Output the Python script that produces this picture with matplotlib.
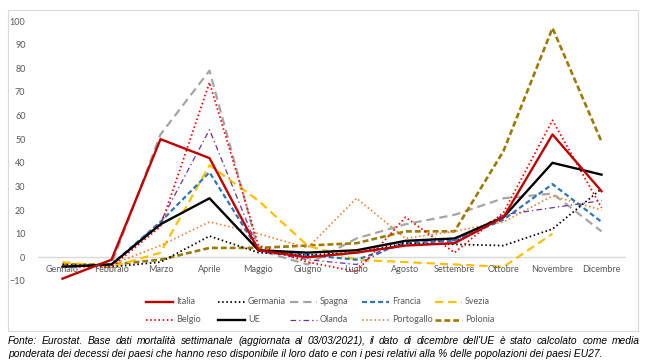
import numpy as np
import matplotlib
matplotlib.use("Agg")
import matplotlib.pyplot as plt
from matplotlib.lines import Line2D
from matplotlib.patches import Rectangle

plt.rcParams['lines.scale_dashes'] = False

mesi = ["Gennaio", "Febbraio", "Marzo", "Aprile", "Maggio", "Giugno",
        "Luglio", "Agosto", "Settembre", "Ottobre", "Novembre", "Dicembre"]

# variazioni % mensili dei decessi
italia = [-9, -1, 50, 42, 3, 0, 2, 5, 6, 17, 52, 28]
germania = [-3, -4, -2, 9, 2, 1, 2, 6, 5.5, 5, 12, 29]
spagna = [-4, -3, 52, 79, 3, -3, 8, 14, 18, 25, 27, 11]
francia = [-4, -3, 15, 36, 3, 1, -1, 6, 7, 16, 31, 15]
svezia = [-2, -4, 2, 39, 24, 5, -1, -2, -3, -4, 10, np.nan]
belgio = [-4, -4, 13, 74, 5, -2, -6, 17, 2, 19, 58, 21]
ue = [-4, -3, 14, 25, 3, 2, 3, 7, 8, 17, 40, 35]
olanda = [-4, -3, 15, 54, 3, -1, -3, 7, 7, 18, 21, 24]
portogallo = [-3, -3, 5, 15, 10, 4, 25, 8, 11, 15, 26, 20]
polonia = [-3, -3, -1, 4, 4, 5, 6, 11, 11, 45, 97, 49]

nomi = ["Italia", "Germania", "Spagna", "Francia", "Svezia",
        "Belgio", "UE", "Olanda", "Portogallo", "Polonia"]
serie = [italia, germania, spagna, francia, svezia,
         belgio, ue, olanda, portogallo, polonia]

# stile di ogni serie: colore, spessore (pt), tratteggio
stili = {
    "Italia": dict(color="#C00000", lw=1.7, ls="-"),
    "Germania": dict(color="#000000", lw=1.3, ls=(0, (1.1, 1.9))),
    "Spagna": dict(color="#A5A5A5", lw=1.6, ls=(0, (6, 3.5))),
    "Francia": dict(color="#2E75B6", lw=1.6, ls=(0, (3.6, 2.2))),
    "Svezia": dict(color="#FFC000", lw=1.6, ls=(0, (6, 3.5))),
    "Belgio": dict(color="#FF0000", lw=1.3, ls=(0, (1.1, 1.9))),
    "UE": dict(color="#000000", lw=1.7, ls="-"),
    "Olanda": dict(color="#7030A0", lw=0.9, ls=(0, (4, 2.2, 1, 2.2))),
    "Portogallo": dict(color="#ED7D31", lw=1.2, ls=(0, (1.1, 1.9))),
    "Polonia": dict(color="#9C7A00", lw=1.9, ls=(0, (4.2, 2.2))),
}

W, H = 648, 363
fig = plt.figure(figsize=(W / 100, H / 100), dpi=100)

def px(x, y):
    return x / W, 1 - y / H

# cornice del grafico
fig.add_artist(Rectangle(px(8, 331), (638 - 8) / W, (331 - 10) / H,
                         transform=fig.transFigure, fill=False,
                         edgecolor="#D9D9D9", lw=0.8))

l, b = px(38, 281)
r, t = px(626, 21)
ax = fig.add_axes([l, b, r - l, t - b])
x = np.arange(len(mesi))

ordine = ["Spagna", "Polonia", "Svezia", "Portogallo", "Olanda", "Francia",
          "Germania", "Belgio", "UE", "Italia"]
ax.axhline(0, color="#D9D9D9", lw=1.0, zorder=1)
for nome in ordine:
    s = stili[nome]
    ax.plot(x, serie[nomi.index(nome)], color=s["color"], lw=s["lw"],
            linestyle=s["ls"], zorder=2 + ordine.index(nome))

ax.set_xlim(-0.5, len(mesi) - 0.5)
ax.set_ylim(-10, 100)
ax.set_yticks(np.arange(-10, 101, 10))
ax.set_xticks([])
ax.tick_params(axis="y", length=0, pad=9, labelsize=6.5, labelcolor="#595959")
for lab in ax.get_yticklabels():
    lab.set_family("Lato")
for sp in ax.spines.values():
    sp.set_visible(False)

for i, m in enumerate(mesi):
    ax.text(i, -5.2, m, ha="center", va="center", fontsize=6.5,
            color="#595959", family="Lato", zorder=20)

# legenda su due righe, colonne a passo fisso
col_x = [146, 218, 290, 362, 435]
row_y = [302, 320]
for k, nome in enumerate(nomi):
    s = stili[nome]
    x0 = col_x[k % 5]
    y0 = row_y[k // 5]
    xa, ya = px(x0, y0)
    xb, _ = px(x0 + 27, y0)
    fig.add_artist(Line2D([xa, xb], [ya, ya], transform=fig.transFigure,
                          color=s["color"], lw=s["lw"], linestyle=s["ls"]))
    fx, fy = px(x0 + 30, y0)
    fig.text(fx, fy, nome, ha="left", va="center", fontsize=6.5,
             color="#595959", family="Lato")

nota1 = ("Fonte: Eurostat. Base dati mortalità settimanale (aggiornata al 03/03/2021), "
         "il dato di dicembre dell'UE è stato calcolato come media")
nota2 = ("ponderata dei decessi dei paesi che hanno reso disponibile il loro dato "
         "e con i pesi relativi alla % delle popolazioni dei paesi EU27.")
font_nota = dict(fontsize=7.4, style="italic", family="Liberation Sans",
                 color="#000000", va="center", ha="left")

# prima riga giustificata tra x=8 e x=640
renderer = fig.canvas.get_renderer()
parole = nota1.split(" ")
pezzi = []
for p in parole:
    tx = fig.text(0, 0, p, **font_nota)
    pezzi.append((tx, tx.get_window_extent(renderer).width))
spazio = (640 - 8 - sum(w for _, w in pezzi)) / (len(pezzi) - 1)
pos = 8
for tx, w in pezzi:
    tx.set_position(px(pos, 341))
    pos += w + spazio

fx, fy = px(8, 354)
fig.text(fx, fy, nota2, **font_nota)

fig.savefig("out.png", dpi=100)
